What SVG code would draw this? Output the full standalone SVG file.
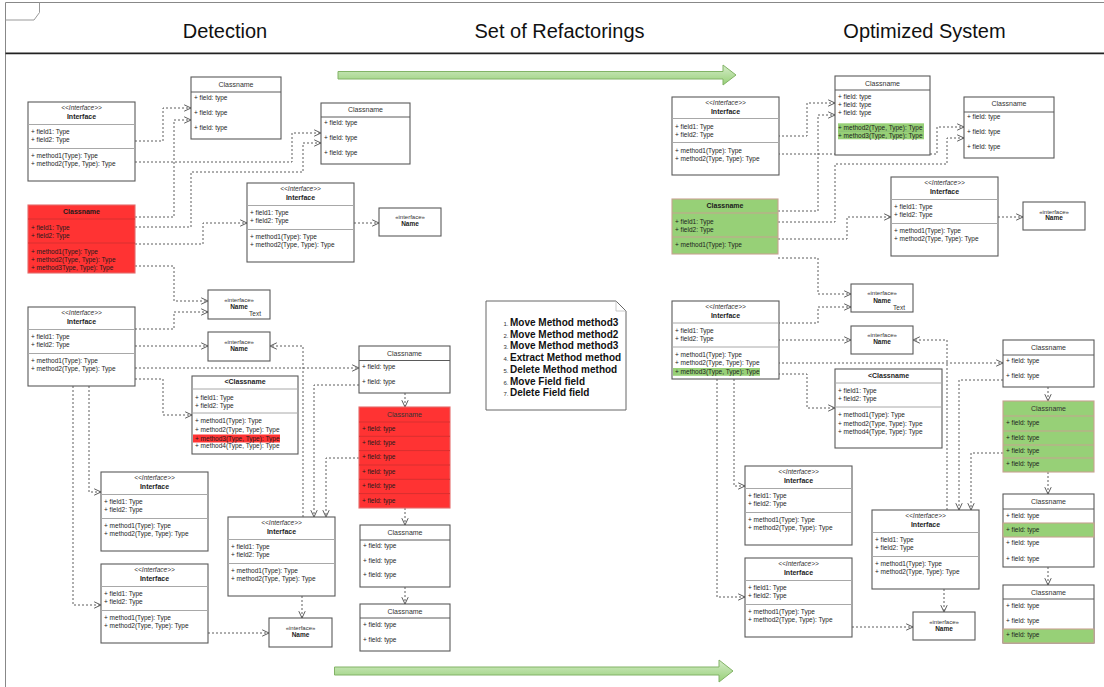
<svg xmlns="http://www.w3.org/2000/svg" width="1104" height="687" viewBox="0 0 1104 687">
<style>
text{font-family:"Liberation Sans",Arial,Helvetica,sans-serif}
.bx{fill:#fff;stroke:#5a5a5a;stroke-width:1.1}
.rd{fill:#ff3333;stroke:#e46b6b;stroke-width:1.1}
.gn{fill:#97d077;stroke:#c7a291;stroke-width:1.1}
.dv{stroke:#a8a8a8;stroke-width:1}
.hd{stroke:#5a5a5a;stroke-width:1}
.rr{stroke:#d93030;stroke-width:1}
.gr{stroke:#c7a291;stroke-width:1}
.f{font-size:6.5px;fill:#1c1c1c}
.st{font-size:6.5px;font-style:italic;text-anchor:middle;fill:#333}
.nm{font-size:7px;font-weight:bold;text-anchor:middle;fill:#1c1c1c}
.cn{font-size:7px;text-anchor:middle;fill:#333}
.si{font-size:6px;text-anchor:middle;fill:#333}
.sn{font-size:6.5px;font-weight:bold;text-anchor:middle;fill:#1c1c1c}
.tx{font-size:6.5px;text-anchor:middle;fill:#333}
.cx{fill:none;stroke:#5c5c5c;stroke-width:1;stroke-dasharray:2 2;marker-end:url(#v)}
.h1{font-size:20px;text-anchor:middle;fill:#111}
.nt{font-size:10px;font-weight:bold;fill:#111}
.nn{font-size:6px;text-anchor:end;fill:#333}
.ga{fill:url(#gg);stroke:#82b366;stroke-width:1}
</style>
<defs>
<marker id="v" viewBox="0 0 10 10" refX="9.5" refY="5" markerWidth="8" markerHeight="8" markerUnits="userSpaceOnUse" orient="auto">
<path d="M1,1 L9.5,5 L1,9" fill="none" stroke="#555" stroke-width="1.2"/>
</marker>
<linearGradient id="gg" x1="0" y1="0" x2="0" y2="1">
<stop offset="0" stop-color="#d5ecc9"/>
<stop offset="1" stop-color="#97d077"/>
</linearGradient>
</defs>
<rect width="1104" height="687" fill="#fff"/>

<!-- frame -->
<g id="frame">
<path d="M5.5,687 V2.5 H1104" fill="none" stroke="#888" stroke-width="1"/>
<path d="M5.5,20 H34 L39.5,12.5 V2.5" fill="none" stroke="#999" stroke-width="1"/>
<line x1="5.5" y1="53.3" x2="1104" y2="53.3" stroke="#222" stroke-width="1.8"/>
<text class="h1" x="225" y="38">Detection</text>
<text class="h1" x="559.5" y="38">Set of Refactorings</text>
<text class="h1" x="924.5" y="38">Optimized System</text>
</g>

<!-- process arrows -->
<g id="arrow-top"><path class="ga" d="M338,71.5 H723 V65 L736,75 L723,85 V79 H338 Z"/></g>
<g id="arrow-bottom"><path class="ga" d="M334.5,667 H719 V660 L733,671 L719,682 V675 H334.5 Z"/></g>

<!-- connectors -->
<g id="connectors">
<path class="cx" d="M135,141 H163 V108 H191"/>
<path class="cx" d="M135,162 H292 V133 H321"/>
<path class="cx" d="M135,217 H174 V120 H191"/>
<path class="cx" d="M135,227 H191 V172 H303 V143 H321"/>
<path class="cx" d="M135,244 H203 V223 H247"/>
<path class="cx" d="M354,223 H379"/>
<path class="cx" d="M135,266 H174 V301 H208"/>
<path class="cx" d="M135,329 H174 V312 H208"/>
<path class="cx" d="M135,346 H208"/>
<path class="cx" d="M135,368 H359"/>
<path class="cx" d="M135,379 H163 V415 H192"/>
<path class="cx" d="M73,386 V605 H101"/>
<path class="cx" d="M89,386 V492 H101"/>
<path class="cx" d="M303,517 V346 H270"/>
<path class="cx" d="M359,385 H314 V517"/>
<path class="cx" d="M359,458 H326 V517"/>
<path class="cx" d="M405,393 V407"/>
<path class="cx" d="M405,508 V525"/>
<path class="cx" d="M405,587 V604"/>
<path class="cx" d="M302,596 V618"/>
<path class="cx" d="M208,633 H269"/>

<path class="cx" d="M778,136 H807 V103 H835"/>
<path class="cx" d="M778,154 H937 V127 H964"/>
<path class="cx" d="M778,211 H818 V115 H835"/>
<path class="cx" d="M778,222 H835 V164 H947 V138 H964"/>
<path class="cx" d="M778,239 H847 V217 H891"/>
<path class="cx" d="M998,217 H1023"/>
<path class="cx" d="M778,258 H818 V294 H851"/>
<path class="cx" d="M778,323 H818 V307 H851"/>
<path class="cx" d="M778,340 H851"/>
<path class="cx" d="M778,363 H1003"/>
<path class="cx" d="M778,374 H807 V408 H835"/>
<path class="cx" d="M717,379 V597 H745"/>
<path class="cx" d="M734,379 V486 H745"/>
<path class="cx" d="M947,510 V340 H913"/>
<path class="cx" d="M1003,380 H959 V510"/>
<path class="cx" d="M1003,453 H971 V510"/>
<path class="cx" d="M1048,387 V401"/>
<path class="cx" d="M1048,472 V494"/>
<path class="cx" d="M1048,567 V585"/>
<path class="cx" d="M944,589 V612"/>
<path class="cx" d="M852,627 H913"/>
</g>

<!-- ===== Detection side ===== -->
<g id="d-iface-1" transform="translate(28,102)">
<rect class="bx" width="107" height="79"/>
<text class="st" x="53.5" y="8.3">&lt;&lt;Interface&gt;&gt;</text>
<text class="nm" x="53.5" y="17">Interface</text>
<line class="dv" x1="0" y1="22.5" x2="107" y2="22.5"/>
<text class="f" x="3" y="32.3">+ field1: Type</text>
<text class="f" x="3" y="40.3">+ field2: Type</text>
<line class="dv" x1="0" y1="46.5" x2="107" y2="46.5"/>
<text class="f" x="3" y="56.3">+ method1(Type): Type</text>
<text class="f" x="3" y="64.3">+ method2(Type, Type): Type</text>
</g>

<g id="d-class-1" transform="translate(191,77)">
<rect class="bx" width="90" height="62"/>
<text class="cn" x="45" y="9.5">Classname</text>
<line class="hd" x1="0" y1="15" x2="90" y2="15"/>
<text class="f" x="3" y="23.3">+ field: type</text>
<text class="f" x="3" y="38.3">+ field: type</text>
<text class="f" x="3" y="53.3">+ field: type</text>
</g>

<g id="d-class-2" transform="translate(321,103)">
<rect class="bx" width="89" height="61"/>
<text class="cn" x="44.5" y="8.5">Classname</text>
<line class="hd" x1="0" y1="14" x2="89" y2="14"/>
<text class="f" x="3" y="22.3">+ field: type</text>
<text class="f" x="3" y="37.3">+ field: type</text>
<text class="f" x="3" y="52.3">+ field: type</text>
</g>

<g id="d-class-red" transform="translate(28,205)">
<rect class="rd" width="107" height="68"/>
<text class="nm" x="53.5" y="8.5">Classname</text>
<line class="rr" x1="0" y1="14" x2="107" y2="14"/>
<text class="f" x="3" y="25.3">+ field1: Type</text>
<text class="f" x="3" y="33.3">+ field2: Type</text>
<line class="rr" x1="0" y1="38" x2="107" y2="38"/>
<text class="f" x="3" y="49.3">+ method1(Type): Type</text>
<text class="f" x="3" y="57.3">+ method2(Type, Type): Type</text>
<text class="f" x="3" y="65.3">+ method3Type, Type): Type</text>
</g>

<g id="d-iface-2" transform="translate(247,183)">
<rect class="bx" width="107" height="79"/>
<text class="st" x="53.5" y="8.3">&lt;&lt;Interface&gt;&gt;</text>
<text class="nm" x="53.5" y="17">Interface</text>
<line class="dv" x1="0" y1="22.5" x2="107" y2="22.5"/>
<text class="f" x="3" y="32.3">+ field1: Type</text>
<text class="f" x="3" y="40.3">+ field2: Type</text>
<line class="dv" x1="0" y1="46.5" x2="107" y2="46.5"/>
<text class="f" x="3" y="56.3">+ method1(Type): Type</text>
<text class="f" x="3" y="64.3">+ method2(Type, Type): Type</text>
</g>

<g id="d-name-1" transform="translate(379,208)">
<rect class="bx" width="62" height="28"/>
<text class="si" x="31" y="11">«interface»</text>
<text class="sn" x="31" y="18.3">Name</text>
</g>

<g id="d-name-text" transform="translate(208,290)">
<rect class="bx" width="62" height="29"/>
<text class="si" x="31" y="12">«interface»</text>
<text class="sn" x="31" y="19.3">Name</text>
<text class="tx" x="47" y="25.5">Text</text>
</g>

<g id="d-iface-3" transform="translate(28,307)">
<rect class="bx" width="107" height="79"/>
<text class="st" x="53.5" y="8.3">&lt;&lt;Interface&gt;&gt;</text>
<text class="nm" x="53.5" y="17">Interface</text>
<line class="dv" x1="0" y1="22.5" x2="107" y2="22.5"/>
<text class="f" x="3" y="32.3">+ field1: Type</text>
<text class="f" x="3" y="40.3">+ field2: Type</text>
<line class="dv" x1="0" y1="46.5" x2="107" y2="46.5"/>
<text class="f" x="3" y="56.3">+ method1(Type): Type</text>
<text class="f" x="3" y="64.3">+ method2(Type, Type): Type</text>
</g>

<g id="d-name-2" transform="translate(208,332)">
<rect class="bx" width="62" height="29"/>
<text class="si" x="31" y="11.5">«interface»</text>
<text class="sn" x="31" y="18.5">Name</text>
</g>

<g id="d-class-3" transform="translate(192,376)">
<rect class="bx" width="106" height="78"/>
<text class="nm" x="53" y="7.7">&lt;Classname</text>
<line class="dv" x1="0" y1="13" x2="106" y2="13"/>
<text class="f" x="3" y="24.3">+ field1: Type</text>
<text class="f" x="3" y="32.3">+ field2: Type</text>
<line class="dv" x1="0" y1="37" x2="106" y2="37"/>
<text class="f" x="3" y="47.3">+ method1(Type): Type</text>
<text class="f" x="3" y="56.3">+ method2(Type, Type): Type</text>
<rect x="1" y="58.5" width="87" height="8" fill="#ff3333"/>
<text class="f" x="3" y="64.5">+ method3(Type, Type): Type</text>
<text class="f" x="3" y="72.3">+ method4(Type, Type): Type</text>
</g>

<g id="d-class-4" transform="translate(359,346)">
<rect class="bx" width="91" height="47"/>
<text class="cn" x="45.5" y="9.5">Classname</text>
<line class="hd" x1="0" y1="14.5" x2="91" y2="14.5"/>
<text class="f" x="3" y="23.3">+ field: type</text>
<text class="f" x="3" y="38.3">+ field: type</text>
</g>

<g id="d-class-red-2" transform="translate(359,407)">
<rect class="rd" width="91" height="101"/>
<text class="cn" x="45.5" y="9.5">Classname</text>
<line class="rr" x1="0" y1="15" x2="91" y2="15"/>
<line class="rr" x1="0" y1="29.3" x2="91" y2="29.3"/>
<line class="rr" x1="0" y1="43.6" x2="91" y2="43.6"/>
<line class="rr" x1="0" y1="58" x2="91" y2="58"/>
<line class="rr" x1="0" y1="72.3" x2="91" y2="72.3"/>
<line class="rr" x1="0" y1="86.6" x2="91" y2="86.6"/>
<text class="f" x="3" y="23.5">+ field: type</text>
<text class="f" x="3" y="38">+ field: type</text>
<text class="f" x="3" y="52.3">+ field: type</text>
<text class="f" x="3" y="67">+ field: type</text>
<text class="f" x="3" y="81.3">+ field: type</text>
<text class="f" x="3" y="96">+ field: type</text>
</g>

<g id="d-iface-4" transform="translate(101,472)">
<rect class="bx" width="107" height="79"/>
<text class="st" x="53.5" y="8.3">&lt;&lt;Interface&gt;&gt;</text>
<text class="nm" x="53.5" y="17">Interface</text>
<line class="dv" x1="0" y1="22.5" x2="107" y2="22.5"/>
<text class="f" x="3" y="32.3">+ field1: Type</text>
<text class="f" x="3" y="40.3">+ field2: Type</text>
<line class="dv" x1="0" y1="46.5" x2="107" y2="46.5"/>
<text class="f" x="3" y="56.3">+ method1(Type): Type</text>
<text class="f" x="3" y="64.3">+ method2(Type, Type): Type</text>
</g>

<g id="d-iface-5" transform="translate(101,564)">
<rect class="bx" width="107" height="79"/>
<text class="st" x="53.5" y="8.3">&lt;&lt;Interface&gt;&gt;</text>
<text class="nm" x="53.5" y="17">Interface</text>
<line class="dv" x1="0" y1="22.5" x2="107" y2="22.5"/>
<text class="f" x="3" y="32.3">+ field1: Type</text>
<text class="f" x="3" y="40.3">+ field2: Type</text>
<line class="dv" x1="0" y1="46.5" x2="107" y2="46.5"/>
<text class="f" x="3" y="56.3">+ method1(Type): Type</text>
<text class="f" x="3" y="64.3">+ method2(Type, Type): Type</text>
</g>

<g id="d-iface-6" transform="translate(228,517)">
<rect class="bx" width="107" height="79"/>
<text class="st" x="53.5" y="8.3">&lt;&lt;Interface&gt;&gt;</text>
<text class="nm" x="53.5" y="17">Interface</text>
<line class="dv" x1="0" y1="22.5" x2="107" y2="22.5"/>
<text class="f" x="3" y="32.3">+ field1: Type</text>
<text class="f" x="3" y="40.3">+ field2: Type</text>
<line class="dv" x1="0" y1="46.5" x2="107" y2="46.5"/>
<text class="f" x="3" y="56.3">+ method1(Type): Type</text>
<text class="f" x="3" y="64.3">+ method2(Type, Type): Type</text>
</g>

<g id="d-name-3" transform="translate(269,618)">
<rect class="bx" width="63" height="29"/>
<text class="si" x="31.5" y="11.5">«interface»</text>
<text class="sn" x="31.5" y="18.8">Name</text>
</g>

<g id="d-class-5" transform="translate(360,525)">
<rect class="bx" width="90" height="62"/>
<text class="cn" x="45" y="9.5">Classname</text>
<line class="hd" x1="0" y1="15" x2="90" y2="15"/>
<text class="f" x="3" y="23.3">+ field: type</text>
<text class="f" x="3" y="38.3">+ field: type</text>
<text class="f" x="3" y="52.3">+ field: type</text>
</g>

<g id="d-class-6" transform="translate(360,604)">
<rect class="bx" width="90" height="47"/>
<text class="cn" x="45" y="9.5">Classname</text>
<line class="hd" x1="0" y1="14" x2="90" y2="14"/>
<text class="f" x="3" y="23.3">+ field: type</text>
<text class="f" x="3" y="38.3">+ field: type</text>
</g>

<!-- refactoring list -->
<g id="refactorings">
<path d="M486,301 H616 L626,311 V410 H486 Z" fill="#fff" stroke="#666" stroke-width="1"/>
<path d="M616,301 V311 H626" fill="none" stroke="#bbb" stroke-width="0.8"/>
<text class="nn" x="508.5" y="326">1.</text><text class="nt" x="510" y="326">Move Method method3</text>
<text class="nn" x="508.5" y="337.7">2.</text><text class="nt" x="510" y="337.7">Move Method method2</text>
<text class="nn" x="508.5" y="349.4">3.</text><text class="nt" x="510" y="349.4">Move Method method3</text>
<text class="nn" x="508.5" y="361.1">4.</text><text class="nt" x="510" y="361.1">Extract Method method</text>
<text class="nn" x="508.5" y="372.8">5.</text><text class="nt" x="510" y="372.8">Delete Method method</text>
<text class="nn" x="508.5" y="384.5">6.</text><text class="nt" x="510" y="384.5">Move Field field</text>
<text class="nn" x="508.5" y="396.2">7.</text><text class="nt" x="510" y="396.2">Delete Field field</text>
</g>

<!-- ===== Optimized side ===== -->
<g id="o-iface-1" transform="translate(672,97)">
<rect class="bx" width="107" height="78"/>
<text class="st" x="53.5" y="8.3">&lt;&lt;Interface&gt;&gt;</text>
<text class="nm" x="53.5" y="17">Interface</text>
<line class="dv" x1="0" y1="21.5" x2="107" y2="21.5"/>
<text class="f" x="3" y="32.3">+ field1: Type</text>
<text class="f" x="3" y="40.3">+ field2: Type</text>
<line class="dv" x1="0" y1="45.5" x2="107" y2="45.5"/>
<text class="f" x="3" y="56.3">+ method1(Type): Type</text>
<text class="f" x="3" y="64.3">+ method2(Type, Type): Type</text>
</g>

<g id="o-class-1" transform="translate(835,76)">
<rect class="bx" width="95" height="79"/>
<text class="cn" x="47.5" y="9.5">Classname</text>
<line class="hd" x1="0" y1="14" x2="95" y2="14"/>
<text class="f" x="3" y="23.3">+ field: type</text>
<text class="f" x="3" y="31.3">+ field: type</text>
<text class="f" x="3" y="39.3">+ field: type</text>
<rect x="3" y="47.3" width="86" height="8" fill="#97d077"/>
<rect x="3" y="55.3" width="86" height="8" fill="#97d077"/>
<line x1="3" y1="55.3" x2="89" y2="55.3" stroke="#6fa85a" stroke-width="0.6"/>
<text class="f" x="3" y="53.5">+ method2(Type, Type): Type</text>
<text class="f" x="3" y="61.5">+ method3(Type, Type): Type</text>
</g>

<g id="o-class-2" transform="translate(964,97)">
<rect class="bx" width="90" height="61"/>
<text class="cn" x="45" y="8.5">Classname</text>
<line class="hd" x1="0" y1="15" x2="90" y2="15"/>
<text class="f" x="3" y="22.3">+ field: type</text>
<text class="f" x="3" y="37.3">+ field: type</text>
<text class="f" x="3" y="52.3">+ field: type</text>
</g>

<g id="o-class-green" transform="translate(672,199)">
<rect class="gn" width="106" height="55"/>
<text class="nm" x="53" y="8.5">Classname</text>
<line class="gr" x1="0" y1="14" x2="106" y2="14"/>
<text class="f" x="3" y="25.3">+ field1: Type</text>
<text class="f" x="3" y="33.3">+ field2: Type</text>
<line class="gr" x1="0" y1="38" x2="106" y2="38"/>
<text class="f" x="3" y="48.3">+ method1(Type): Type</text>
</g>

<g id="o-iface-2" transform="translate(891,177)">
<rect class="bx" width="107" height="79"/>
<text class="st" x="53.5" y="8.3">&lt;&lt;Interface&gt;&gt;</text>
<text class="nm" x="53.5" y="17">Interface</text>
<line class="dv" x1="0" y1="22.5" x2="107" y2="22.5"/>
<text class="f" x="3" y="32.3">+ field1: Type</text>
<text class="f" x="3" y="40.3">+ field2: Type</text>
<line class="dv" x1="0" y1="46.5" x2="107" y2="46.5"/>
<text class="f" x="3" y="56.3">+ method1(Type): Type</text>
<text class="f" x="3" y="64.3">+ method2(Type, Type): Type</text>
</g>

<g id="o-name-1" transform="translate(1023,202)">
<rect class="bx" width="62" height="28"/>
<text class="si" x="31" y="11.5">«interface»</text>
<text class="sn" x="31" y="18.3">Name</text>
</g>

<g id="o-name-text" transform="translate(851,284)">
<rect class="bx" width="62" height="28"/>
<text class="si" x="31" y="11.3">«interface»</text>
<text class="sn" x="31" y="18.5">Name</text>
<text class="tx" x="48" y="25.5">Text</text>
</g>

<g id="o-iface-3" transform="translate(672,301)">
<rect class="bx" width="107" height="78"/>
<text class="st" x="53.5" y="8.3">&lt;&lt;Interface&gt;&gt;</text>
<text class="nm" x="53.5" y="16.8">Interface</text>
<line class="dv" x1="0" y1="22" x2="107" y2="22"/>
<text class="f" x="3" y="32.3">+ field1: Type</text>
<text class="f" x="3" y="40.3">+ field2: Type</text>
<line class="dv" x1="0" y1="46" x2="107" y2="46"/>
<text class="f" x="3" y="56.3">+ method1(Type): Type</text>
<text class="f" x="3" y="64.3">+ method2(Type, Type): Type</text>
<rect x="1" y="67" width="87" height="7.8" fill="#97d077"/>
<text class="f" x="3" y="72.8">+ method3(Type, Type): Type</text>
</g>

<g id="o-name-2" transform="translate(851,326)">
<rect class="bx" width="62" height="28"/>
<text class="si" x="31" y="11">«interface»</text>
<text class="sn" x="31" y="18.3">Name</text>
</g>

<g id="o-class-3" transform="translate(835,369)">
<rect class="bx" width="107" height="79"/>
<text class="nm" x="53.5" y="8.5">&lt;Classname</text>
<line class="dv" x1="0" y1="14" x2="107" y2="14"/>
<text class="f" x="3" y="24.3">+ field1: Type</text>
<text class="f" x="3" y="32.3">+ field2: Type</text>
<line class="dv" x1="0" y1="38" x2="107" y2="38"/>
<text class="f" x="3" y="48.3">+ method1(Type): Type</text>
<text class="f" x="3" y="57.3">+ method2(Type, Type): Type</text>
<text class="f" x="3" y="65.3">+ method4(Type, Type): Type</text>
</g>

<g id="o-class-4" transform="translate(1003,340)">
<rect class="bx" width="91" height="47"/>
<text class="cn" x="45.5" y="9.5">Classname</text>
<line class="hd" x1="0" y1="15" x2="91" y2="15"/>
<text class="f" x="3" y="23.3">+ field: type</text>
<text class="f" x="3" y="38.3">+ field: type</text>
</g>

<g id="o-class-green-2" transform="translate(1003,401)">
<rect class="gn" width="91" height="71"/>
<text class="cn" x="45.5" y="9.5">Classname</text>
<line class="gr" x1="0" y1="15" x2="91" y2="15"/>
<line class="gr" x1="0" y1="30" x2="91" y2="30"/>
<line class="gr" x1="0" y1="44" x2="91" y2="44"/>
<line class="gr" x1="0" y1="57" x2="91" y2="57"/>
<text class="f" x="3" y="23.8">+ field: type</text>
<text class="f" x="3" y="38.5">+ field: type</text>
<text class="f" x="3" y="52.3">+ field: type</text>
<text class="f" x="3" y="64.8">+ field: type</text>
</g>

<g id="o-iface-4" transform="translate(745,466)">
<rect class="bx" width="107" height="79"/>
<text class="st" x="53.5" y="8.3">&lt;&lt;Interface&gt;&gt;</text>
<text class="nm" x="53.5" y="17">Interface</text>
<line class="dv" x1="0" y1="22.5" x2="107" y2="22.5"/>
<text class="f" x="3" y="32.3">+ field1: Type</text>
<text class="f" x="3" y="40.3">+ field2: Type</text>
<line class="dv" x1="0" y1="46.5" x2="107" y2="46.5"/>
<text class="f" x="3" y="56.3">+ method1(Type): Type</text>
<text class="f" x="3" y="64.3">+ method2(Type, Type): Type</text>
</g>

<g id="o-iface-5" transform="translate(745,558)">
<rect class="bx" width="107" height="79"/>
<text class="st" x="53.5" y="8.3">&lt;&lt;Interface&gt;&gt;</text>
<text class="nm" x="53.5" y="17">Interface</text>
<line class="dv" x1="0" y1="22.5" x2="107" y2="22.5"/>
<text class="f" x="3" y="32.3">+ field1: Type</text>
<text class="f" x="3" y="40.3">+ field2: Type</text>
<line class="dv" x1="0" y1="46.5" x2="107" y2="46.5"/>
<text class="f" x="3" y="56.3">+ method1(Type): Type</text>
<text class="f" x="3" y="64.3">+ method2(Type, Type): Type</text>
</g>

<g id="o-iface-6" transform="translate(872,510)">
<rect class="bx" width="107" height="79"/>
<text class="st" x="53.5" y="8.3">&lt;&lt;Interface&gt;&gt;</text>
<text class="nm" x="53.5" y="17">Interface</text>
<line class="dv" x1="0" y1="22.5" x2="107" y2="22.5"/>
<text class="f" x="3" y="32.3">+ field1: Type</text>
<text class="f" x="3" y="40.3">+ field2: Type</text>
<line class="dv" x1="0" y1="46.5" x2="107" y2="46.5"/>
<text class="f" x="3" y="56.3">+ method1(Type): Type</text>
<text class="f" x="3" y="64.3">+ method2(Type, Type): Type</text>
</g>

<g id="o-name-3" transform="translate(913,612)">
<rect class="bx" width="62" height="28"/>
<text class="si" x="31" y="11.5">«interface»</text>
<text class="sn" x="31" y="18.8">Name</text>
</g>

<g id="o-class-5" transform="translate(1003,494)">
<rect class="bx" width="91" height="73"/>
<text class="cn" x="45.5" y="9.5">Classname</text>
<line class="hd" x1="0" y1="15" x2="91" y2="15"/>
<text class="f" x="3" y="24.3">+ field: type</text>
<rect class="gn" x="0" y="29" width="91" height="14"/>
<text class="f" x="3" y="38.3">+ field: type</text>
<text class="f" x="3" y="51.3">+ field: type</text>
<text class="f" x="3" y="67.3">+ field: type</text>
</g>

<g id="o-class-6" transform="translate(1003,585)">
<rect class="bx" width="91" height="58"/>
<text class="cn" x="45.5" y="9.5">Classname</text>
<line class="hd" x1="0" y1="14" x2="91" y2="14"/>
<text class="f" x="3" y="23.3">+ field: type</text>
<text class="f" x="3" y="38.3">+ field: type</text>
<rect class="gn" x="0" y="44" width="91" height="14"/>
<text class="f" x="3" y="52.3">+ field: type</text>
</g>
</svg>
